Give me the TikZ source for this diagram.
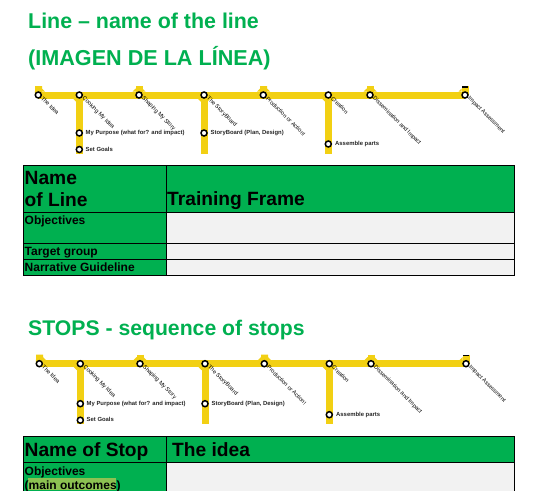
\documentclass[tikz,border=0pt]{standalone}
\usepackage{fontspec}
\setmainfont{Liberation Sans}
\usetikzlibrary{backgrounds}
\definecolor{tgreen}{HTML}{00B050}
\definecolor{tyellow}{HTML}{F2D013}
\definecolor{tgrey}{HTML}{F2F2F2}
\definecolor{thigh}{HTML}{8CC152}
\tikzset{
  x=1pt,y=-1pt,
  heading/.style={anchor=base west,inner sep=0pt,text=tgreen,font=\fontsize{21.4}{21.4}\selectfont\bfseries},
  metro/.style={draw=tyellow,line width=7pt},
  station/.style={circle,draw=black,fill=white,line width=1.5pt,minimum size=6pt,inner sep=0pt},
  stlabel/.style={anchor=west,inner sep=0pt,rotate=-45,font=\fontsize{5.7}{5.7}\selectfont,text=black},
  sidelabel/.style={anchor=west,inner sep=0pt,font=\fontsize{5.9}{5.9}\selectfont\bfseries,text=black!85},
  cellg/.style={draw=black,line width=0.9pt,fill=tgreen,anchor=north west,inner sep=0pt,minimum width=#1},
  cellw/.style={draw=black,line width=0.9pt,fill=tgrey,anchor=north west,inner sep=0pt,minimum width=#1},
  celltxt/.style={anchor=base west,inner sep=0pt,text=black,font=\fontsize{12}{12}\selectfont\bfseries},
  bigtxt/.style={anchor=base west,inner sep=0pt,text=black,font=\fontsize{19.2}{19.2}\selectfont\bfseries},
}
% chamfers where a stub or a branch meets the main line
\newcommand{\chamup}[2]{\fill[tyellow] (#1-6.5,#2-3.5) -- (#1-3.5,#2-6.5) -- (#1+3.5,#2-6.5) -- (#1+6.5,#2-3.5) -- cycle;}
\newcommand{\chamdown}[2]{\fill[tyellow] (#1-6.5,#2+3.5) -- (#1-3.5,#2+6.5) -- (#1+3.5,#2+6.5) -- (#1+6.5,#2+3.5) -- cycle;}
\newcommand{\metromap}[4]{% prefix, dx, dy, extra branch length
\begin{scope}[shift={(#2,#3)}]
  \coordinate (#1s1) at (38.5,86);
  \coordinate (#1s3) at (139,86);
  \coordinate (#1s5) at (263.5,86);
  \coordinate (#1s7) at (370,86);
  \coordinate (#1s8) at (465,86);
  \coordinate (#1b2) at (79.3,153.5+#4);
  \coordinate (#1b4) at (204,153.5+#4);
  \coordinate (#1b6) at (328.3,153.5+#4);
  \coordinate (#1j1) at (38.5,91);
  \coordinate (#1j3) at (139,91);
  \coordinate (#1j5) at (263.5,91);
  \coordinate (#1j7) at (370,91);
  \coordinate (#1j8) at (465,91);
  \node[station] (#1a) at (38.3,95) {};
  \node[station] (#1b) at (79.3,95) {};
  \node[station] (#1c) at (139,95) {};
  \node[station] (#1d) at (204,95) {};
  \node[station] (#1e) at (263.3,95) {};
  \node[station] (#1f) at (328.3,95) {};
  \node[station] (#1g) at (370,95) {};
  \node[station] (#1h) at (465,95) {};
  \node[station] (#1b1) at (79.3,133+#4) {};
  \node[station] (#1b3) at (79.3,149.5+#4) {};
  \node[station] (#1d1) at (204,133+#4) {};
  \node[station] (#1f1) at (328.3,144+#4) {};
  \node[stlabel] at (42,97.5) {The Idea};
  \node[stlabel] at (83,97.5) {Cooking My Idea};
  \node[stlabel] at (142.5,97.5) {Shaping My Story};
  \node[stlabel] at (207.5,97.5) {The StoryBoard};
  \node[stlabel] at (267,97.5) {Production or Action!};
  \node[stlabel] at (332,97.5) {Creation};
  \node[stlabel] at (373.5,97.5) {Dissemination and Impact};
  \node[stlabel] at (468.5,97.5) {Impact Assessment};
  \node[sidelabel] at (85.5,133+#4) {My Purpose (what for? and impact)};
  \node[sidelabel] at (85.5,149+#4) {Set Goals};
  \node[sidelabel] at (210.5,133+#4) {StoryBoard (Plan, Design)};
  \node[sidelabel] at (335,144+#4) {Assemble parts};
  \begin{scope}[on background layer]
    \draw[metro] (#1a.center) -- (#1b.center) -- (#1c.center) -- (#1d.center) -- (#1e.center) -- (#1f.center) -- (#1g.center) -- (#1h.center);
    \draw[metro] (#1b.center) -- (#1b2);
    \draw[metro] (#1d.center) -- (#1b4);
    \draw[metro] (#1f.center) -- (#1b6);
    \draw[metro] (#1s1) -- (#1j1) -- (#1a.center);
    \draw[metro] (#1s3) -- (#1j3) -- (#1c.center);
    \draw[metro] (#1s5) -- (#1j5) -- (#1e.center);
    \draw[metro] (#1s7) -- (#1j7) -- (#1g.center);
    \draw[metro] (#1s8) -- (#1j8) -- (#1h.center);
    \fill[tyellow] (42,91.5) -- (42,88.5) -- (45,91.5) -- cycle;
    \fill[tyellow] (461.5,91.5) -- (461.5,88.5) -- (458.5,91.5) -- cycle;
    \chamup{139}{95}
    \chamup{263.5}{95}
    \chamup{370}{95}
    \chamdown{79.3}{95}
    \chamdown{204}{95}
    \chamdown{328.3}{95}
  \end{scope}
  \fill[black] (462,86) rectangle (468,87.5);
\end{scope}
}
\begin{document}
\begin{tikzpicture}
\clip (0,0) rectangle (554,490);
\node[heading] (t1) at (28,28) {Line – name of the line};
\node[heading,font=\fontsize{21.6}{21.6}\selectfont\bfseries] (t2) at (28,65.5) {(IMAGEN DE LA LÍNEA)};
\node[heading,font=\fontsize{21.2}{21.2}\selectfont\bfseries] (t3) at (28,335) {STOPS - sequence of stops};

\metromap{p}{0}{0}{0}
\metromap{q}{1}{268.7}{2}

% first table
\node[cellg=143pt,minimum height=47pt] (n1) at (23,165) {};
\node[cellg=348pt,minimum height=47pt] (n2) at (166,165) {};
\node[cellg=143pt,minimum height=31pt] (o1) at (23,212) {};
\node[cellw=348pt,minimum height=31pt] (o2) at (166,212) {};
\node[cellg=143pt,minimum height=16pt] (g1) at (23,243) {};
\node[cellw=348pt,minimum height=16pt] (g2) at (166,243) {};
\node[cellg=143pt,minimum height=16pt] (r1) at (23,259) {};
\node[cellw=348pt,minimum height=16pt] (r2) at (166,259) {};
\node[bigtxt] at (24.5,184) {Name};
\node[bigtxt] at (24.5,206.5) {of Line};
\node[bigtxt] at (167,205) {Training Frame};
\node[celltxt] at (24.5,224) {Objectives};
\node[celltxt] at (24.5,255) {Target group};
\node[celltxt] at (24.5,271) {Narrative Guideline};

% second table
\node[cellg=143pt,minimum height=26pt] (s1) at (23,436) {};
\node[cellg=348pt,minimum height=26pt] (s2) at (166,436) {};
\node[cellg=143pt,minimum height=40pt] (u1) at (23,462) {};
\node[cellw=348pt,minimum height=40pt] (u2) at (166,462) {};
\node[bigtxt] at (24.5,456) {Name of Stop};
\node[bigtxt] at (172,456) {The idea};
\node[celltxt] at (24.5,475) {Objectives};
\fill[thigh] (28,478) rectangle (116,490);
\node[celltxt] at (24.5,489) {(main outcomes)};
\end{tikzpicture}
\end{document}
